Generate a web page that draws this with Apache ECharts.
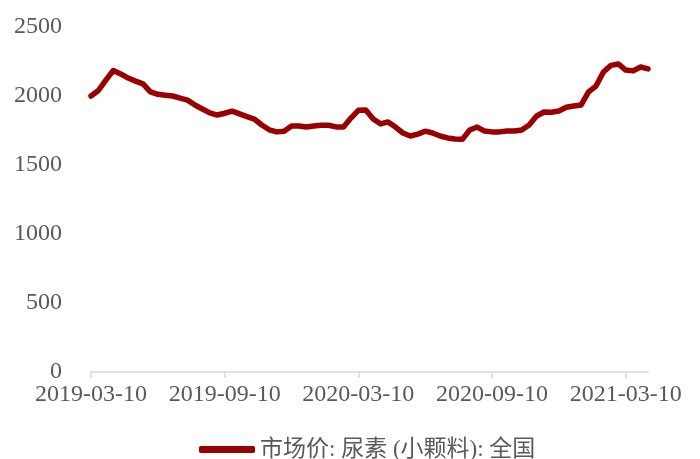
<!DOCTYPE html>
<html lang="zh">
<head>
    <meta charset="UTF-8">
    <title>尿素价格</title>
    <script src="https://cdn.jsdelivr.net/npm/echarts@6/dist/echarts.min.js"></script>
    <style>
        body { margin: 0; background: #fff; }
        #main { width: 700px; height: 459px; }
    </style>
</head>
<body>
    <div id="main"></div>
</body>
</html>
<script type="text/javascript">
    // 日期（每旬）
    var dates = [
        '2019-03-10', '2019-03-20', '2019-03-31', '2019-04-10', '2019-04-20', '2019-04-30',
        '2019-05-10', '2019-05-20', '2019-05-31', '2019-06-10', '2019-06-20', '2019-06-30',
        '2019-07-10', '2019-07-20', '2019-07-31', '2019-08-10', '2019-08-20', '2019-08-31',
        '2019-09-10', '2019-09-20', '2019-09-30', '2019-10-10', '2019-10-20', '2019-10-31',
        '2019-11-10', '2019-11-20', '2019-11-30', '2019-12-10', '2019-12-20', '2019-12-31',
        '2020-01-10', '2020-01-20', '2020-01-31', '2020-02-10', '2020-02-20', '2020-02-29',
        '2020-03-10', '2020-03-20', '2020-03-31', '2020-04-10', '2020-04-20', '2020-04-30',
        '2020-05-10', '2020-05-20', '2020-05-31', '2020-06-10', '2020-06-20', '2020-06-30',
        '2020-07-10', '2020-07-20', '2020-07-31', '2020-08-10', '2020-08-20', '2020-08-31',
        '2020-09-10', '2020-09-20', '2020-09-30', '2020-10-10', '2020-10-20', '2020-10-31',
        '2020-11-10', '2020-11-20', '2020-11-30', '2020-12-10', '2020-12-20', '2020-12-31',
        '2021-01-10', '2021-01-20', '2021-01-31', '2021-02-10', '2021-02-20', '2021-02-28',
        '2021-03-10', '2021-03-20', '2021-03-31', '2021-04-10'
    ];
    // 市场价: 尿素(小颗料): 全国
    var prices = [
        2000, 2040, 2115, 2185, 2160, 2130, 2108, 2088, 2030, 2012,
        2006, 2000, 1985, 1970, 1935, 1906, 1878, 1862, 1875, 1890,
        1870, 1850, 1833, 1790, 1755, 1740, 1745, 1782, 1783, 1775,
        1782, 1788, 1788, 1776, 1776, 1840, 1896, 1898, 1833, 1798,
        1812, 1775, 1732, 1710, 1724, 1745, 1732, 1710, 1696, 1688,
        1686, 1754, 1775, 1746, 1740, 1740, 1746, 1746, 1754, 1790,
        1855, 1884, 1882, 1891, 1918, 1927, 1935, 2030, 2072, 2174,
        2222, 2232, 2188, 2182, 2210, 2196
    ];
    var seriesName = '市场价: 尿素 (小颗料): 全国';

    var textColor = '#595959';
    var fontFam = "'Liberation Serif', 'Noto Sans CJK SC', serif";

    var myChart = echarts.init(document.getElementById('main'));
    var option = {
        animation: false,
        grid: { left: 91, right: 52, top: 27, bottom: 87, containLabel: false },
        legend: {
            data: [seriesName],
            top: 433,
            left: 194,
            icon: 'roundRect',
            itemWidth: 56,
            itemHeight: 7,
            itemGap: 6,
            textStyle: { color: textColor, fontSize: 23, fontFamily: fontFam }
        },
        xAxis: {
            type: 'category',
            data: dates,
            boundaryGap: false,
            axisLine: { lineStyle: { color: '#d9d9d9', width: 1.5 } },
            axisTick: { interval: 17, length: 6, lineStyle: { color: '#d9d9d9', width: 1.5 } },
            axisLabel: {
                interval: 17, margin: 11, color: textColor,
                fontSize: 24, fontFamily: fontFam
            }
        },
        yAxis: {
            type: 'value',
            min: 0, max: 2500, interval: 500,
            axisLine: { show: false },
            axisTick: { show: false },
            splitLine: { show: false },
            axisLabel: {
                margin: 29, color: textColor, fontSize: 24, fontFamily: fontFam,
                formatter: function (v) { return String(v); }
            }
        },
        series: [{
            name: seriesName,
            type: 'line',
            data: prices,
            showSymbol: false,
            symbol: 'none',
            itemStyle: { color: '#990000' },
            lineStyle: { color: '#990000', width: 5.5, join: 'round', cap: 'round' }
        }]
    };
    myChart.setOption(option);
</script>
